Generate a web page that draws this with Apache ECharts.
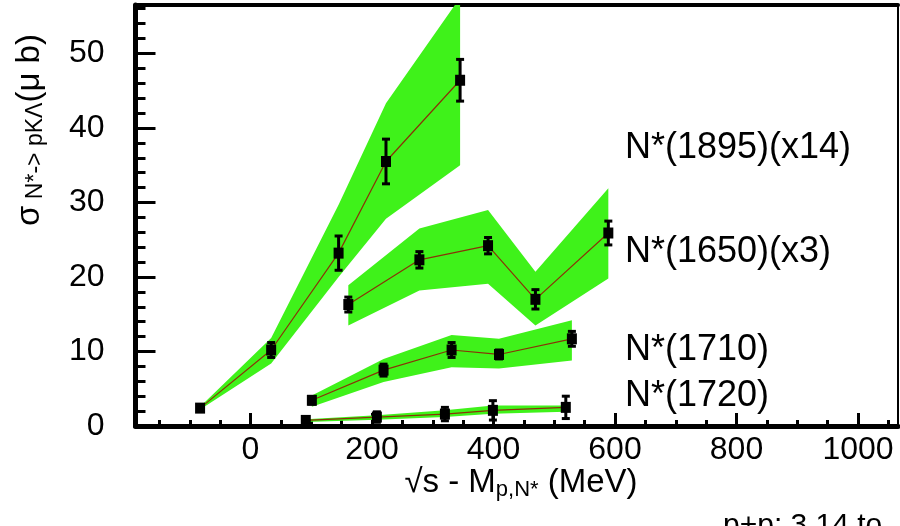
<!DOCTYPE html>
<html>
<head>
<meta charset="utf-8">
<script src="https://cdn.jsdelivr.net/npm/echarts@6/dist/echarts.min.js"></script>
<style>
html, body { margin: 0; padding: 0; background: #fff; }
#main { width: 900px; height: 526px; }
</style>
</head>
<body>
<div id="main"></div>
<script>
// 数据: sqrt(s) - M (MeV), sigma (mu b), 误差, 带上下沿
var x1895 = [-83, 34, 145, 223, 345];
var y1895 = [2.4, 10.2, 23.2, 35.5, 46.4];
var e1895 = [0.4, 1.0, 2.3, 3.0, 2.8];
var hi1895 = [2.6, 11.8, 29.7, 43.3, 57.5];
var lo1895 = [2.2, 8.4, 20.0, 27.8, 35.0];

var x1650 = [161, 278, 391, 469, 589];
var y1650 = [16.3, 22.3, 24.2, 17.0, 25.9];
var e1650 = [1.0, 1.1, 1.1, 1.3, 1.6];
var hi1650 = [18.9, 26.5, 29.0, 20.7, 31.9];
var lo1650 = [13.5, 18.2, 19.1, 13.5, 19.8];

var x1710 = [101, 219, 331, 409, 529];
var y1710 = [3.45, 7.5, 10.2, 9.6, 11.7];
var e1710 = [0.5, 0.8, 1.0, 0.6, 1.0];
var hi1710 = [4.1, 9.0, 12.2, 11.7, 14.2];
var lo1710 = [2.6, 5.9, 7.9, 7.7, 8.8];

var x1720 = [91, 208, 320, 399, 519];
var y1720 = [0.75, 1.2, 1.6, 2.1, 2.5];
var e1720 = [0.4, 0.7, 0.9, 1.3, 1.5];
var hi1720 = [0.9, 1.45, 2.1, 2.75, 2.75];
var lo1720 = [0.55, 0.85, 1.2, 1.65, 1.9];

// 坐标轴刻度
var xMajorTicks = [0, 200, 400, 600, 800, 1000];
var xMinorTicks = [-150, -100, -50, 50, 100, 150, 250, 300, 350, 450, 500, 550,
	650, 700, 750, 850, 900, 950, 1050];
var XMIN = -189.3, XMAX = 1065.8;
var YMAX = 56.5;

var FONT = 'Liberation Sans';
var GREEN = '#3ff21a';
var LINE = '#8a3208';

// 主绘图区
var G = { left: 135.5, top: 5, width: 762.5, height: 421 };

function zip(xs, ys, es) {
	var out = [];
	for (var i = 0; i < xs.length; i++) {
		out.push(es ? [xs[i], ys[i], es[i]] : [xs[i], ys[i]]);
	}
	return out;
}

// 绿色误差带 (多边形)
function bandSeries(xs, lo, hi) {
	return {
		type: 'custom',
		clip: true,
		silent: true,
		z: 1,
		data: [[xs[0], lo[0]]],
		renderItem: function(params, api) {
			var pts = [];
			for (var i = 0; i < xs.length; i++) pts.push(api.coord([xs[i], hi[i]]));
			for (var j = xs.length - 1; j >= 0; j--) pts.push(api.coord([xs[j], lo[j]]));
			return {
				type: 'polygon',
				shape: { points: pts },
				style: { fill: GREEN }
			};
		}
	};
}

function lineSeries(xs, ys) {
	return {
		type: 'line',
		z: 2,
		data: zip(xs, ys),
		symbol: 'none',
		lineStyle: { color: LINE, width: 1.2 },
		silent: true
	};
}

// 数据点 + 误差棒
function pointSeries(xs, ys, es) {
	return {
		type: 'custom',
		z: 3,
		silent: true,
		data: zip(xs, ys, es),
		renderItem: function(params, api) {
			var c = api.coord([api.value(0), api.value(1)]);
			var top = api.coord([api.value(0), api.value(1) + api.value(2)]);
			var bot = api.coord([api.value(0), api.value(1) - api.value(2)]);
			var st = { stroke: '#000', lineWidth: 3 };
			return {
				type: 'group',
				children: [
					{ type: 'line', shape: { x1: c[0], y1: top[1], x2: c[0], y2: bot[1] }, style: st },
					{ type: 'line', shape: { x1: c[0] - 4, y1: top[1], x2: c[0] + 4, y2: top[1] }, style: st },
					{ type: 'line', shape: { x1: c[0] - 4, y1: bot[1], x2: c[0] + 4, y2: bot[1] }, style: st },
					{ type: 'rect', shape: { x: c[0] - 5, y: c[1] - 5.5, width: 10, height: 11 }, style: { fill: '#000' } }
				]
			};
		}
	};
}

// 刻度轴: 放在相邻的辅助 grid 上, 刻度朝外 = 朝主绘图区内
function tickAxis(gridIndex, pos, min, max, len, extra) {
	var ax = {
		type: 'value', gridIndex: gridIndex, min: min, max: max, position: pos,
		axisLine: { show: false, onZero: false },
		axisTick: { show: true, inside: false, length: len, lineStyle: { color: '#000', width: 3 } },
		axisLabel: { show: false },
		splitLine: { show: false }
	};
	if (extra.interval) ax.interval = extra.interval;
	if (extra.customValues) ax.axisTick.customValues = extra.customValues;
	return ax;
}

var chart = echarts.init(document.getElementById('main'));

var option = {
	animation: false,
	backgroundColor: '#fff',
	grid: [
		{ left: G.left, top: G.top, width: G.width, height: G.height },
		// 左侧辅助区, 右边缘 = 主区左边缘
		{ left: 0, top: G.top, width: G.left, height: G.height },
		// 下方辅助区, 上边缘 = 主区下边缘
		{ left: G.left, top: G.top + G.height, width: G.width, height: 526 - G.top - G.height }
	],
	xAxis: [{
		type: 'value', gridIndex: 0, min: XMIN, max: XMAX, position: 'bottom',
		axisLine: { show: true, onZero: false, lineStyle: { color: '#000', width: 5 } },
		axisTick: { show: false },
		axisLabel: {
			customValues: xMajorTicks, color: '#000', fontSize: 32, fontFamily: FONT, margin: 8,
			formatter: function(v) { return String(v); }
		},
		splitLine: { show: false }
	}, {
		type: 'value', gridIndex: 0, min: XMIN, max: XMAX, position: 'top',
		axisLine: { show: true, onZero: false, lineStyle: { color: '#000', width: 4 } },
		axisTick: { show: false },
		axisLabel: { show: false },
		splitLine: { show: false }
	},
		{ type: 'value', gridIndex: 1, min: 0, max: 1, show: false },
		tickAxis(2, 'top', XMIN, XMAX, 13, { customValues: xMajorTicks }),
		tickAxis(2, 'top', XMIN, XMAX, 6, { customValues: xMinorTicks })
	],
	yAxis: [{
		type: 'value', gridIndex: 0, min: 0, max: YMAX, interval: 10, position: 'left',
		axisLine: { show: true, onZero: false, lineStyle: { color: '#000', width: 5 } },
		axisTick: { show: false },
		axisLabel: { color: '#000', fontSize: 32, fontFamily: FONT, margin: 31, showMaxLabel: false },
		splitLine: { show: false }
	}, {
		type: 'value', gridIndex: 0, min: 0, max: YMAX, position: 'right',
		axisLine: { show: true, onZero: false, lineStyle: { color: '#000', width: 2 } },
		axisTick: { show: false },
		axisLabel: { show: false },
		splitLine: { show: false }
	},
		tickAxis(1, 'right', 0, YMAX, 20, { interval: 10 }),
		tickAxis(1, 'right', 0, YMAX, 10, { interval: 2 }),
		{ type: 'value', gridIndex: 2, min: 0, max: 1, show: false }
	],
	graphic: [{
		type: 'text', x: 30, y: 130, rotation: Math.PI / 2,
		style: {
			text: '{a|σ}{b| N*-> pKΛ}{a|(μ b)}',
			align: 'center', verticalAlign: 'middle', fill: '#000',
			rich: {
				a: { fontSize: 33, fontFamily: FONT, fill: '#000' },
				b: { fontSize: 23, fontFamily: FONT, fill: '#000', verticalAlign: 'bottom', padding: [12, 0, 0, 0] }
			}
		}
	}, {
		type: 'text', x: 521, y: 483,
		style: {
			text: '{a|√s - M}{b|p,N*}{a| (MeV)}',
			align: 'center', verticalAlign: 'middle', fill: '#000',
			rich: {
				a: { fontSize: 33, fontFamily: FONT, fill: '#000' },
				b: { fontSize: 22, fontFamily: FONT, fill: '#000', verticalAlign: 'bottom', padding: [14, 0, 0, 0] }
			}
		}
	}, {
		type: 'text', x: 625, y: 148,
		style: { text: 'N*(1895)(x14)', fontSize: 36, fontFamily: FONT, fill: '#000', verticalAlign: 'middle' }
	}, {
		type: 'text', x: 625, y: 252,
		style: { text: 'N*(1650)(x3)', fontSize: 36, fontFamily: FONT, fill: '#000', verticalAlign: 'middle' }
	}, {
		type: 'text', x: 625, y: 350,
		style: { text: 'N*(1710)', fontSize: 36, fontFamily: FONT, fill: '#000', verticalAlign: 'middle' }
	}, {
		type: 'text', x: 625, y: 396,
		style: { text: 'N*(1720)', fontSize: 36, fontFamily: FONT, fill: '#000', verticalAlign: 'middle' }
	}, {
		type: 'text', x: 723, y: 511,
		style: { text: 'p+p: 3.14 to', fontSize: 30, fontFamily: FONT, fill: '#000', verticalAlign: 'top' }
	}],
	series: [
		bandSeries(x1895, lo1895, hi1895),
		bandSeries(x1650, lo1650, hi1650),
		bandSeries(x1710, lo1710, hi1710),
		bandSeries(x1720, lo1720, hi1720),
		lineSeries(x1895, y1895),
		lineSeries(x1650, y1650),
		lineSeries(x1710, y1710),
		lineSeries(x1720, y1720),
		pointSeries(x1895, y1895, e1895),
		pointSeries(x1650, y1650, e1650),
		pointSeries(x1710, y1710, e1710),
		pointSeries(x1720, y1720, e1720)
	]
};

chart.setOption(option);
</script>
</body>
</html>
